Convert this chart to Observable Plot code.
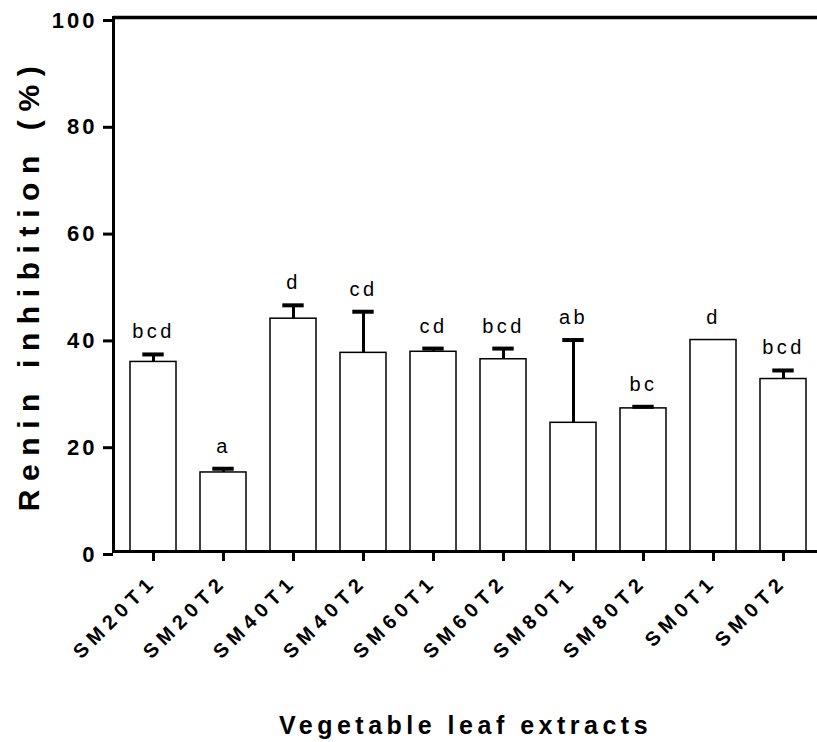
<!DOCTYPE html>
<html>
<head>
<meta charset="utf-8">
<script src="https://cdn.jsdelivr.net/npm/d3@7"></script>
<script src="https://cdn.jsdelivr.net/npm/@observablehq/plot@0.6"></script>
<style>
  html, body { margin: 0; padding: 0; background: #fff; }
  #chart svg { display: block; }
</style>
</head>
<body>
<div id="chart"></div>
<script>
// Renin inhibition (%) of vegetable leaf extracts: mean ± SD with significance letters
const extracts = ["SM20T1", "SM20T2", "SM40T1", "SM40T2", "SM60T1", "SM60T2", "SM80T1", "SM80T2", "SM0T1", "SM0T2"];
const means    = [35.5, 14.8, 43.6, 37.2, 37.4, 36.0, 24.1, 26.8, 39.6, 32.3];
const sds      = [1.4, 0.7, 2.5, 7.7, 0.6, 2.0, 15.5, 0.3, null, 1.6];
const letters  = ["bcd", "a", "d", "cd", "cd", "bcd", "ab", "bc", "d", "bcd"];
const yTicks   = [0, 20, 40, 60, 80, 100];
const yTitle   = "Renin inhibition (%)";
const xTitle   = "Vegetable leaf extracts";

const rows = extracts.map((name, i) => ({name, mean: means[i], sd: sds[i], letter: letters[i]}));
const withSd = rows.filter(d => d.sd != null);
const errTop = d => d.mean + (d.sd ?? 0);

const font = "'Liberation Sans', Arial, Helvetica, sans-serif";

const svg = Plot.plot({
  width: 817,
  height: 742,
  marginTop: 17,
  marginBottom: 191,
  marginLeft: 113,
  marginRight: 0,
  style: {fontFamily: font, color: "black", background: "white", overflow: "visible"},
  x: {domain: extracts, range: [113, 823], paddingInner: 0.342, paddingOuter: 0.18, align: 0.5, axis: null},
  y: {domain: [0, 100], axis: null},
  marks: [
    Plot.barY(rows, {x: "name", y: "mean", fill: "white", stroke: "black", strokeWidth: 1.5}),
    Plot.ruleX(withSd, {x: "name", y1: "mean", y2: errTop, stroke: "black", strokeWidth: 3}),
    Plot.tickY(withSd, {x: "name", y: errTop, stroke: "black", strokeWidth: 4, insetLeft: 12.3, insetRight: 12.3}),
    Plot.text(rows, {x: "name", y: errTop, text: "letter", dy: -16, lineAnchor: "bottom", fontSize: 20, fill: "black"}),
    Plot.ruleY([0], {stroke: "black", strokeWidth: 3}),
    Plot.ruleY([100], {stroke: "black", strokeWidth: 3.5}),
    Plot.frame({anchor: "left", stroke: "black", strokeWidth: 3}),
    Plot.axisY({ticks: yTicks, tickSize: 10, tickPadding: 6, strokeWidth: 3, fontSize: 22, fontWeight: "bold", dy: 3, label: null}),
    Plot.axisX({tickSize: 10, tickPadding: 17, tickRotate: -45, strokeWidth: 3, fontSize: 20, fontWeight: "bold", label: null}),
    Plot.text([yTitle], {frameAnchor: "left", textAnchor: "middle", rotate: -90, dx: -75, lineAnchor: "bottom", fontSize: 30, fontWeight: "bold", fill: "black"}),
    Plot.text([xTitle], {frameAnchor: "bottom", dy: 182, lineAnchor: "bottom", fontSize: 25, fontWeight: "bold", fill: "black"})
  ]
});

// Letter spacing for the wide-tracked labels
const spacing = new Map([[yTitle, "8.6px"], [xTitle, "4.5px"]]);
d3.select(svg).selectAll('g[aria-label="y-axis tick label"] text').attr("letter-spacing", "3px");
d3.select(svg).selectAll('g[aria-label="x-axis tick label"] text').attr("letter-spacing", "5.5px");
d3.select(svg).selectAll('g[aria-label="text"] text').each(function () {
  const t = this.textContent;
  d3.select(this).attr("letter-spacing", spacing.get(t) ?? "3.5px");
});

document.getElementById("chart").append(svg);
</script>
</body>
</html>
